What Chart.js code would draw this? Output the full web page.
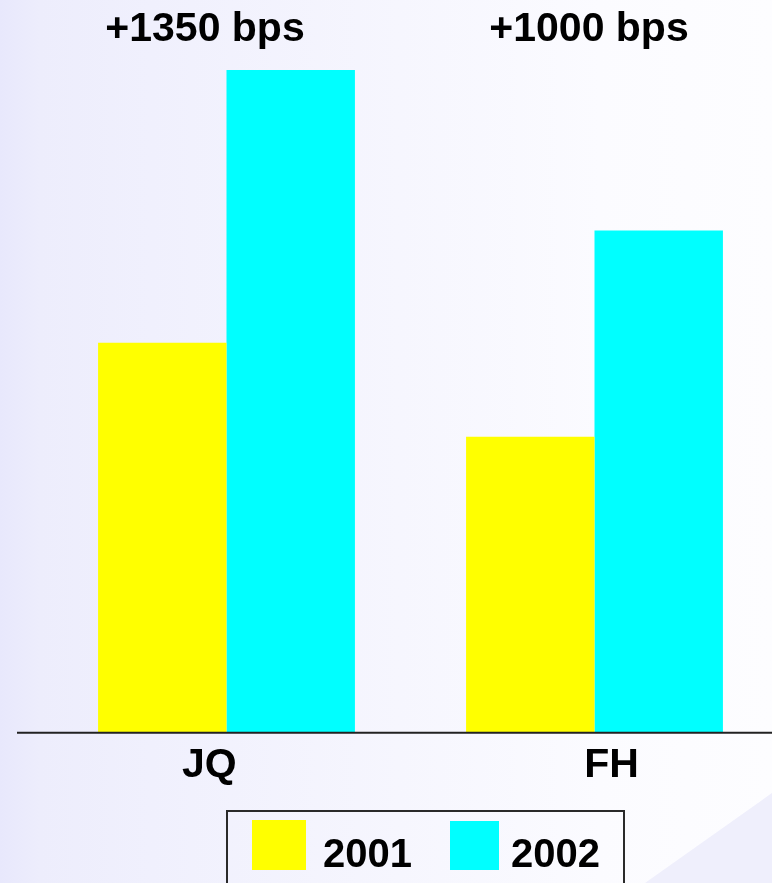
<!DOCTYPE html>
<html>
<head>
<meta charset="utf-8">
<script src="https://cdn.jsdelivr.net/npm/chart.js@4/dist/chart.umd.min.js"></script>
<style>
  html, body { margin: 0; padding: 0; width: 772px; height: 883px; overflow: hidden; }
  body {
    position: relative;
    background: linear-gradient(to right, #e8e8fc 0px, #ededfc 40px, #f0f0fd 150px, #f6f6fe 400px, #fbfbff 600px, #fdfdff 772px);
    font-family: "Liberation Sans", Arial, sans-serif;
  }
  #tri {
    position: absolute; left: 0; top: 0; width: 772px; height: 883px;
    background: #efeffc;
    clip-path: polygon(645px 883px, 772px 793px, 772px 883px);
  }
  #wrap { position: absolute; left: 0; top: 0; width: 800px; height: 883px; }
  #legend {
    position: absolute; left: 226px; top: 810px; width: 399px; height: 90px;
    border: 2px solid #2a2a2a; box-sizing: border-box;
  }
  .sw { position: absolute; }
  .lt { position: absolute; font: bold 40px "Liberation Sans", Arial, sans-serif; color: #000; line-height: 40px; }
</style>
</head>
<body>
<div id="tri"></div>
<div id="wrap"><canvas id="c" width="800" height="883"></canvas></div>
<div id="legend"></div>
<script>
const categories = ['JQ', 'FH'];
const seriesLabels = ['2001', '2002'];
const values2001 = [19.1, 14.5];
const values2002 = [32.45, 24.6];
const seriesColors = ['#ffff00', '#00ffff'];
const annotations = ['+1350 bps', '+1000 bps'];

const annOffsets = [-21.5, -5.5];
const labelPad = ['JQ   ', '   FH'];

const extras = {
  id: 'extras',
  afterDatasetsDraw(chart) {
    const ctx = chart.ctx;
    const y0 = chart.scales.y.getPixelForValue(0);
    ctx.save();
    ctx.strokeStyle = '#222';
    ctx.lineWidth = 2;
    ctx.beginPath();
    ctx.moveTo(17, y0);
    ctx.lineTo(chart.width, y0);
    ctx.stroke();
    ctx.fillStyle = '#000';
    ctx.font = 'bold 41px "Liberation Sans", Arial, sans-serif';
    ctx.textAlign = 'center';
    ctx.textBaseline = 'alphabetic';
    annotations.forEach((t, i) => {
      const x = chart.scales.x.getPixelForValue(i) + annOffsets[i];
      ctx.fillText(t, x, 41);
    });
    ctx.restore();
  }
};

new Chart(document.getElementById('c'), {
  type: 'bar',
  data: {
    labels: categories,
    datasets: [
      { label: seriesLabels[0], data: values2001, backgroundColor: seriesColors[0], borderWidth: 0 },
      { label: seriesLabels[1], data: values2002, backgroundColor: seriesColors[1], borderWidth: 0 }
    ]
  },
  options: {
    responsive: false,
    animation: false,
    events: [],
    layout: { padding: { left: 42.5, right: 21.5, top: 18, bottom: 85 } },
    datasets: { bar: { barPercentage: 1, categoryPercentage: 0.698 } },
    plugins: { legend: { display: false }, tooltip: { enabled: false } },
    scales: {
      x: {
        grid: { display: false, drawTicks: false },
        border: { display: false },
        ticks: {
          padding: 8,
          color: '#000',
          font: { family: '"Liberation Sans", Arial, sans-serif', size: 41, weight: 'bold' },
          callback: (v, i) => labelPad[i]
        }
      },
      y: { display: false, min: 0, max: 35 }
    }
  },
  plugins: [extras]
});

const lg = document.getElementById('legend');
const swatchPos = [{l: 24, t: 8, w: 54, h: 50}, {l: 222, t: 9, w: 49, h: 49}];
const textPos = [{l: 95, t: 21}, {l: 283, t: 21}];
seriesLabels.forEach((s, i) => {
  const sw = document.createElement('div');
  sw.className = 'sw';
  sw.style.cssText = `left:${swatchPos[i].l}px;top:${swatchPos[i].t}px;width:${swatchPos[i].w}px;height:${swatchPos[i].h}px;background:${seriesColors[i]}`;
  lg.appendChild(sw);
  const tx = document.createElement('div');
  tx.className = 'lt';
  tx.textContent = s;
  tx.style.left = textPos[i].l + 'px';
  tx.style.top = textPos[i].t + 'px';
  lg.appendChild(tx);
});
</script>
</body>
</html>
